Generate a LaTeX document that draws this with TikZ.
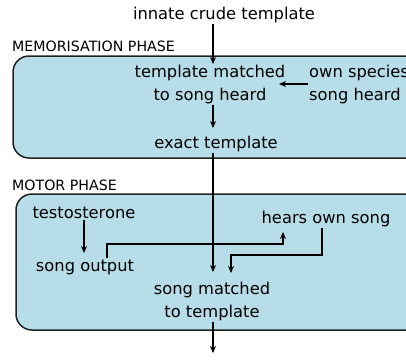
\documentclass[tikz,border=0pt]{standalone}
\usepackage{fontspec}
\setmainfont{DejaVu Sans}
\usetikzlibrary{arrows.meta}
\definecolor{boxfill}{HTML}{B7DDE8}
\definecolor{boxline}{HTML}{222222}
\tikzset{
  txt/.style={inner sep=1pt, align=center, font=\fontsize{16.3}{23}\selectfont},
  phase/.style={inner sep=0pt, anchor=west, font=\fontsize{14.2}{16}\selectfont},
  panel/.style={draw=boxline, fill=boxfill, line width=1.5pt, rounded corners=16pt},
  arr/.style={line width=1.3pt, -{Stealth[length=7pt,width=6pt]}},
  ln/.style={line width=1.3pt}
}
\begin{document}
\begin{tikzpicture}[x=1pt,y=-1pt]
\useasboundingbox (0,0) rectangle (406,362);
\clip (0,0) rectangle (406,362);
% panels
\draw[panel] (13,56) rectangle (440,158);
\draw[panel] (16,194) rectangle (440,330);
% labels
\node[phase] (memlabel) at (12,46) {MEMORISATION PHASE};
\node[phase] (motlabel) at (12,185) {MOTOR PHASE};
% nodes
\node[txt] (innate) at (224,15) {innate crude template};
\node[txt] (tm) at (210,84) {template matched\\to song heard};
\node[txt, anchor=west, align=left] (own) at (308,84) {own species\\song heard};
\node[txt] (exact) at (216,144) {exact template};
\node[txt] (testo) at (84,213) {testosterone};
\node[txt] (songout) at (85,267) {song output};
\node[txt] (hears) at (326,219) {hears own song};
\node[txt] (sm) at (212,301) {song matched\\to template};
% helper coordinates
\coordinate (spine) at (213,0);
\coordinate (tin) at (213,64);
\coordinate (exin) at (213,128);
\coordinate (smin) at (213,272);
\coordinate (out) at (213,353);
\coordinate (ownin) at (279,84);
\coordinate (k1) at (107,244);
\coordinate (k2) at (283,244);
\coordinate (k2e) at (283,232);
\coordinate (k3) at (322,255);
\coordinate (k4) at (231,255);
\coordinate (k4e) at (231,273);
\coordinate (tsin) at (84,253);
% connectors
\draw[arr] (innate.south -| spine) -- (tin);
\draw[arr] (own.west |- ownin) -- (ownin);
\draw[arr] (tm.south -| spine) -- (exin);
\draw[arr] (exact.south -| spine) -- (smin);
\draw[arr] (testo.south) -- (tsin);
\draw[arr] (songout.north -| k1) -- (k1) -- (k2) -- (k2e);
\draw[arr] (hears.south -| k3) -- (k3) -- (k4) -- (k4e);
\draw[arr] (sm.south -| spine) -- (out);
\end{tikzpicture}
\end{document}
